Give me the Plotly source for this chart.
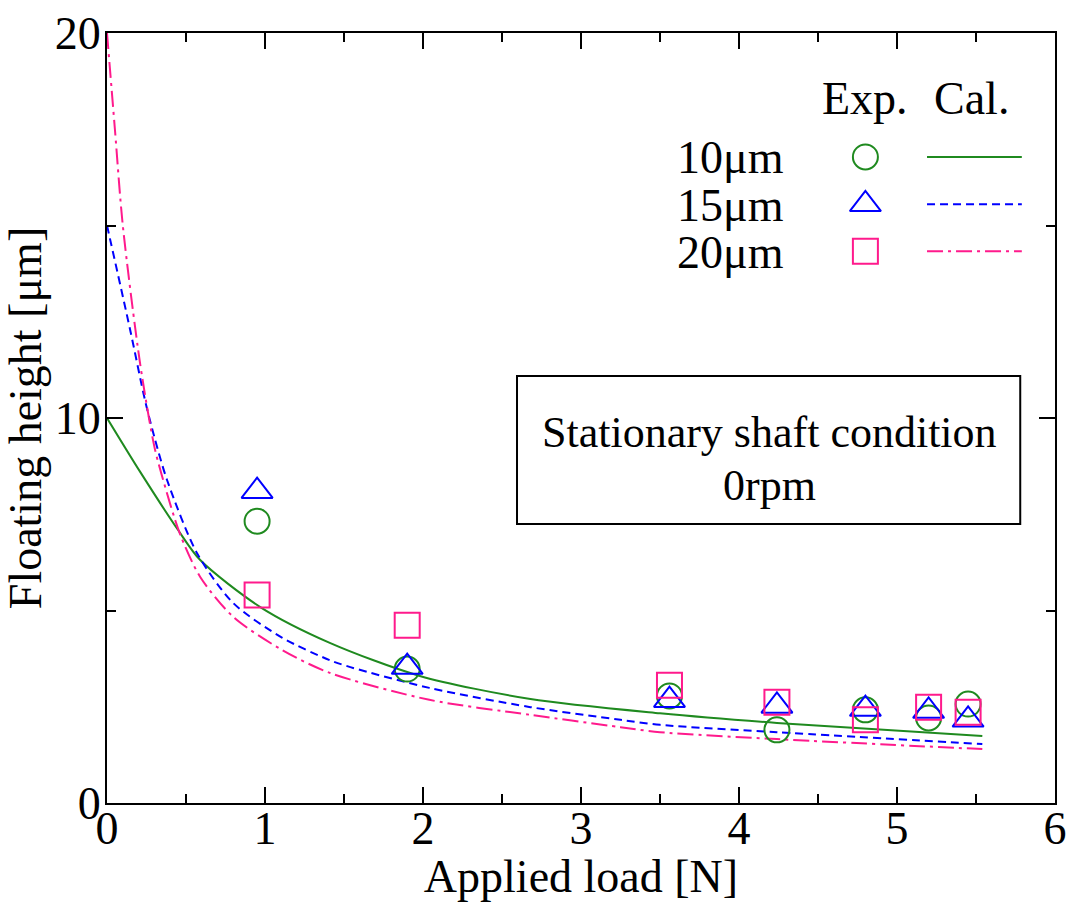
import plotly.graph_objects as go

# ---- data ----
exp_load = [0.95, 1.9, 3.56, 4.24, 4.8, 5.2, 5.45]
exp_10 = [7.32, 3.48, 2.78, 1.90, 2.42, 2.21, 2.57]
exp_15 = [8.10, 3.53, 2.67, 2.52, 2.44, 2.39, 2.16]
exp_20 = [5.40, 4.62, 3.06, 2.62, 2.16, 2.49, 2.36]

cal10_x = [0.0, 0.21, 0.45, 0.59, 0.97, 1.41, 1.98, 2.68, 3.5, 4.24, 5.54]
cal10_y = [10.0, 8.60, 7.09, 6.31, 5.09, 4.16, 3.30, 2.70, 2.33, 2.08, 1.74]

cal15_x = [0.0, 0.146, 0.24, 0.30, 0.38, 0.57, 0.80, 1.11, 1.41, 1.54, 2.04, 2.68, 3.25, 3.5, 4.24, 5.54]
cal15_y = [15.0, 12.3, 10.47, 9.50, 8.39, 6.49, 5.19, 4.29, 3.71, 3.53, 2.99, 2.49, 2.16, 2.03, 1.84, 1.53]

cal20_x = [0.0, 0.05, 0.10, 0.21, 0.30, 0.35, 0.46, 0.59, 0.80, 1.11, 1.41, 2.04, 2.68, 3.25, 3.5, 4.24, 5.54]
cal20_y = [20.0, 17.5, 15.0, 11.4, 9.25, 8.47, 7.01, 5.87, 4.83, 3.97, 3.38, 2.68, 2.29, 1.97, 1.84, 1.66, 1.40]

series_labels = ["10\u03bcm", "15\u03bcm", "20\u03bcm"]
x_ticks = [0, 1, 2, 3, 4, 5, 6]
y_ticks = [0, 10, 20]

GREEN = "#1f8a1f"
BLUE = "#0000ff"
PINK = "#ff1a8c"
FONT = "Liberation Serif"
FS = 46

fig = go.Figure()

# calculated curves
fig.add_trace(go.Scatter(x=cal10_x, y=cal10_y, mode="lines", line=dict(color=GREEN, width=2, shape="spline", smoothing=0.8), showlegend=False))
fig.add_trace(go.Scatter(x=cal15_x, y=cal15_y, mode="lines", line=dict(color=BLUE, width=2, dash="8px,5px", shape="spline", smoothing=0.8), showlegend=False))
fig.add_trace(go.Scatter(x=cal20_x, y=cal20_y, mode="lines", line=dict(color=PINK, width=2, dash="16px,5px,3px,5px", shape="spline", smoothing=0.8), showlegend=False))

# experimental points
fig.add_trace(go.Scatter(x=exp_load, y=exp_10, mode="markers", marker=dict(symbol="circle-open", color=GREEN, size=25, line=dict(width=2)), showlegend=False))
fig.add_trace(go.Scatter(x=exp_load, y=exp_15, mode="markers", marker=dict(symbol="triangle-up-open", color=BLUE, size=27, line=dict(width=2)), showlegend=False))
fig.add_trace(go.Scatter(x=exp_load, y=exp_20, mode="markers", marker=dict(symbol="square-open", color=PINK, size=25, line=dict(width=2)), showlegend=False))

# hand-drawn legend (in data coordinates)
leg_mx = 4.80
leg_lx = [5.19, 5.79]
leg_rows = [16.78, 15.55, 14.33]
syms = ["circle-open", "triangle-up-open", "square-open"]
sizes = [25, 27, 25]
cols = [GREEN, BLUE, PINK]
dashes = ["solid", "8px,5px", "16px,5px,3px,5px"]
for lab, yy, s, sz, c, d in zip(series_labels, leg_rows, syms, sizes, cols, dashes):
    fig.add_trace(go.Scatter(x=[leg_mx], y=[yy], mode="markers",
                             marker=dict(symbol=s, color=c, size=sz, line=dict(width=2)), showlegend=False))
    fig.add_trace(go.Scatter(x=leg_lx, y=[yy, yy], mode="lines", line=dict(color=c, width=2, dash=d), showlegend=False))
    fig.add_annotation(x=4.30, y=yy - 0.02, text=lab, showarrow=False, xanchor="right", yanchor="middle",
                       font=dict(family=FONT, size=FS, color="black"))

fig.add_annotation(x=4.80, y=18.3, text="Exp.", showarrow=False, xanchor="center", yanchor="middle",
                   font=dict(family=FONT, size=FS, color="black"))
fig.add_annotation(x=5.47, y=18.3, text="Cal.", showarrow=False, xanchor="center", yanchor="middle",
                   font=dict(family=FONT, size=FS, color="black"))

# condition box
BFS = 44
fig.add_shape(type="rect", x0=2.595, x1=5.78, y0=7.25, y1=11.09, line=dict(color="black", width=2), fillcolor="white", layer="below")
fig.add_annotation(x=4.19, y=9.62, text="Stationary shaft condition", showarrow=False,
                   xanchor="center", yanchor="middle", font=dict(family=FONT, size=BFS, color="black"))
fig.add_annotation(x=4.19, y=8.25, text="0rpm", showarrow=False,
                   xanchor="center", yanchor="middle", font=dict(family=FONT, size=BFS, color="black"))

axis_common = dict(showline=True, linecolor="black", linewidth=2, mirror="ticks", ticks="inside",
                   ticklen=16, tickwidth=2, tickcolor="black", showgrid=False, zeroline=False,
                   automargin=False, tickfont=dict(family=FONT, size=FS, color="black"))

fig.update_xaxes(range=[0, 6], tickvals=x_ticks, ticktext=[str(v) for v in x_ticks],
                 minor=dict(dtick=0.5, ticks="inside", ticklen=9, tickwidth=2, tickcolor="black", showgrid=False),
                 ticklabelstandoff=-16,
                 title=dict(text="Applied load [N]", font=dict(family=FONT, size=FS, color="black"), standoff=4),
                 **axis_common)
fig.update_yaxes(range=[0, 20], tickvals=y_ticks, ticktext=[str(v) for v in y_ticks],
                 minor=dict(dtick=5, ticks="inside", ticklen=9, tickwidth=2, tickcolor="black", showgrid=False),
                 ticklabelstandoff=-5,
                 title=dict(text="Floating height [\u03bcm]", font=dict(family=FONT, size=FS, color="black"), standoff=0),
                 **axis_common)

fig.update_layout(width=1072, height=902, margin=dict(l=107, r=17, t=33, b=99),
                  plot_bgcolor="white", paper_bgcolor="white", showlegend=False)

fig.write_html("out.html")
